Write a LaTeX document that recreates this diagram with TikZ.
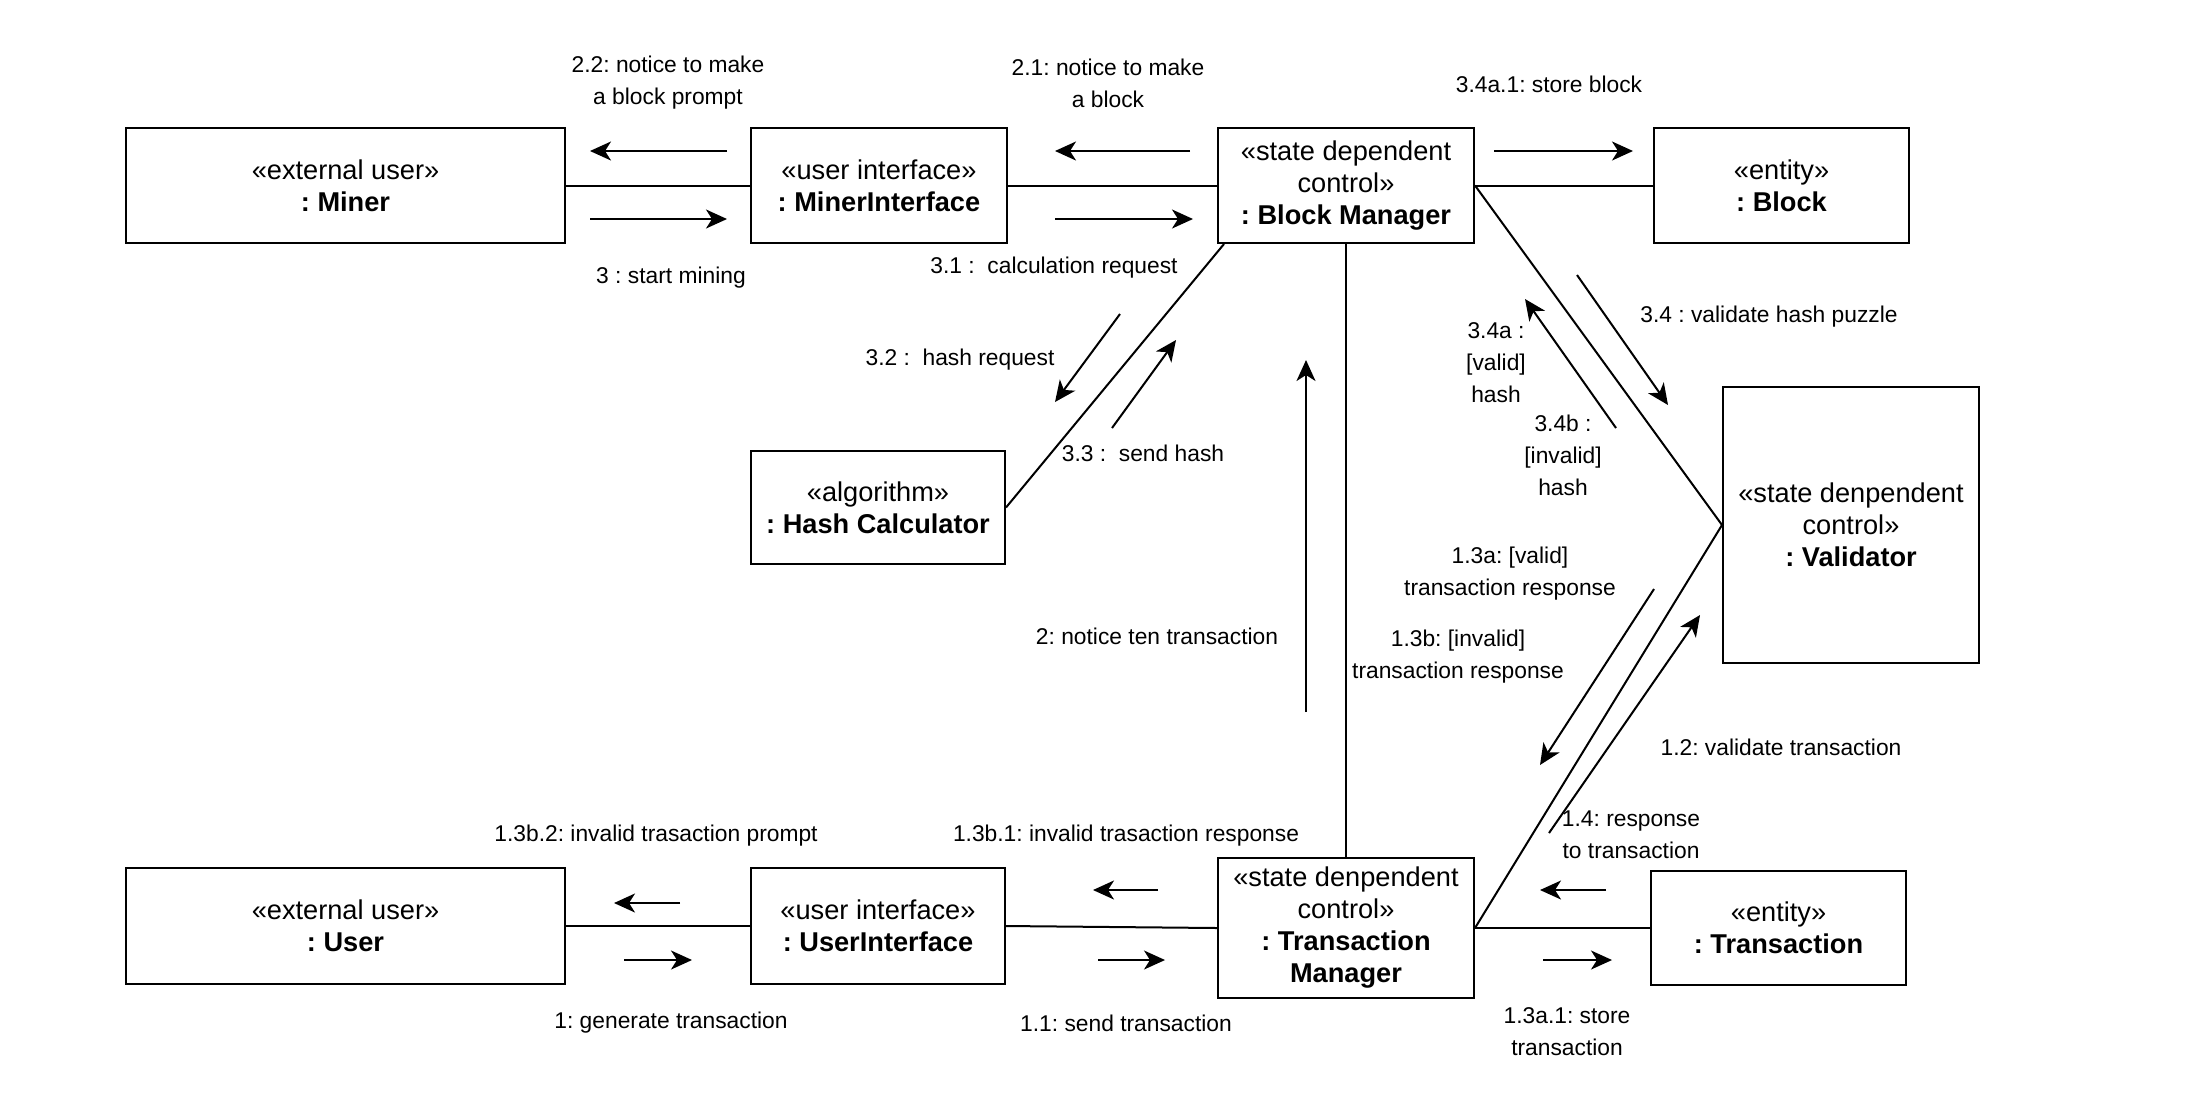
\documentclass[tikz,border=0pt]{standalone}
\usepackage{fontspec}
\setmainfont{Liberation Sans}
\usetikzlibrary{arrows.meta}
\frenchspacing
\tikzset{
  obj/.style={draw, line width=1pt, align=center, inner sep=2pt,
    font=\fontsize{13.6pt}{16pt}\selectfont},
  lbl/.style={align=center, inner sep=0pt, font=\fontsize{11.4pt}{16pt}\selectfont},
  link/.style={line width=1pt},
  msg/.style={line width=1pt, -{Stealth[length=10.5pt,width=9.5pt,inset=3pt]}}
}
\begin{document}
\begin{tikzpicture}[x=0.5pt,y=-0.5pt]
\useasboundingbox (0,0) rectangle (2188,1110);
% objects
\node[obj, minimum width=219.5pt, minimum height=57.5pt] (miner) at (345.5,185.5) {«external user»\\\textbf{: Miner}};
\node[obj, minimum width=128pt, minimum height=57.5pt] (mi) at (879,185.5) {«user interface»\\\textbf{: MinerInterface}};
\node[obj, minimum width=128pt, minimum height=57.5pt] (bm) at (1346,185.5) {«state dependent\\control»\\\textbf{: Block Manager}};
\node[obj, minimum width=127.5pt, minimum height=57.5pt] (block) at (1781.5,185.5) {«entity»\\\textbf{: Block}};
\node[obj, minimum width=127pt, minimum height=56.5pt] (hc) at (878,507.5) {«algorithm»\\\textbf{: Hash Calculator}};
\node[obj, minimum width=128pt, minimum height=138pt] (val) at (1851,525) {«state denpendent\\control»\\\textbf{: Validator}};
\node[obj, minimum width=219.5pt, minimum height=58pt] (user) at (345.5,926) {«external user»\\\textbf{: User}};
\node[obj, minimum width=127pt, minimum height=58pt] (ui) at (878,926) {«user interface»\\\textbf{: UserInterface}};
\node[obj, minimum width=128pt, minimum height=70pt] (tm) at (1346,928) {«state denpendent\\control»\\\textbf{: Transaction}\\\textbf{Manager}};
\node[obj, minimum width=127.5pt, minimum height=57pt] (tr) at (1778.5,928) {«entity»\\\textbf{: Transaction}};
% links
\draw[link] (miner.east) -- (mi.west);
\draw[link] (mi.east) -- (bm.west);
\draw[link] (bm.east) -- (block.west);
\draw[link] ([xshift=3.5pt]bm.south west) -- (hc.east);
\draw[link] (bm.east) -- (val.west);
\draw[link] (bm.south) -- (tm.north);
\draw[link] (tm.east) -- (val.west);
\draw[link] (user.east) -- (ui.west);
\draw[link] (ui.east) -- (tm.west);
\draw[link] (tm.east) -- (tr.west);
% messages: top row
\draw[msg] (727,151) -- (590,151);
\node[lbl] (t22) at (668,83) {2.2: notice to make\\a block prompt};
\draw[msg] (590,219) -- (727,219);
\node[lbl] (t3) at (671,278) {3 : start mining};
\draw[msg] (1190,151) -- (1055,151);
\node[lbl] (t21) at (1108,83) {2.1: notice to make\\a block};
\draw[msg] (1055,219) -- (1193,219);
\node[lbl] (t31) at (1054,268) {3.1 :\ \ calculation request};
\draw[msg] (1494,151) -- (1633,151);
\node[lbl] (t341) at (1549,84) {3.4a.1: store block};
% hash calculator
\draw[msg] (1120,314) -- (1055,402);
\node[lbl] (t32) at (960,360) {3.2 :\ \ hash request};
\draw[msg] (1112,428) -- (1176,340);
\node[lbl] (t33) at (1143,453) {3.3 :\ \ send hash};
% validator / block manager
\draw[msg] (1577,275) -- (1668,405);
\node[lbl] (t34) at (1769,317) {3.4 : validate hash puzzle};
\draw[msg] (1616,428) -- (1525,299);
\node[lbl] (t34a) at (1496,363) {3.4a :\\{[valid]}\\hash};
\node[lbl] (t34b) at (1563,455) {3.4b :\\{[invalid]}\\hash};
% vertical
\draw[msg] (1306,712) -- (1306,360);
\node[lbl] (t2) at (1157,636) {2: notice ten transaction};
% validator / transaction manager
\node[lbl] (t13a) at (1510,574) {1.3a: [valid]\\transaction response};
\node[lbl] (t13b) at (1458,657) {1.3b: [invalid]\\transaction response};
\draw[msg] (1654,589) -- (1540,765);
\draw[msg] (1549,833) -- (1700,615);
\node[lbl] (t12) at (1781,747) {1.2: validate transaction};
\node[lbl] (t14) at (1631,835) {1.4: response\\to transaction};
\draw[msg] (1606,890) -- (1540,890);
\node[lbl] (t13a1) at (1567,1032) {1.3a.1: store\\transaction};
\draw[msg] (1543,960) -- (1612,960);
% bottom row
\node[lbl] (t13b1) at (1126,836) {1.3b.1: invalid trasaction response};
\draw[msg] (1158,890) -- (1093,890);
\node[lbl] (t11) at (1126,1023) {1.1: send transaction};
\draw[msg] (1098,960) -- (1165,960);
\node[lbl] (t13b2) at (656,836) {1.3b.2: invalid trasaction prompt};
\draw[msg] (680,903) -- (614,903);
\node[lbl] (t1) at (671,1023) {1: generate transaction};
\draw[msg] (624,960) -- (692,960);
\end{tikzpicture}
\end{document}
